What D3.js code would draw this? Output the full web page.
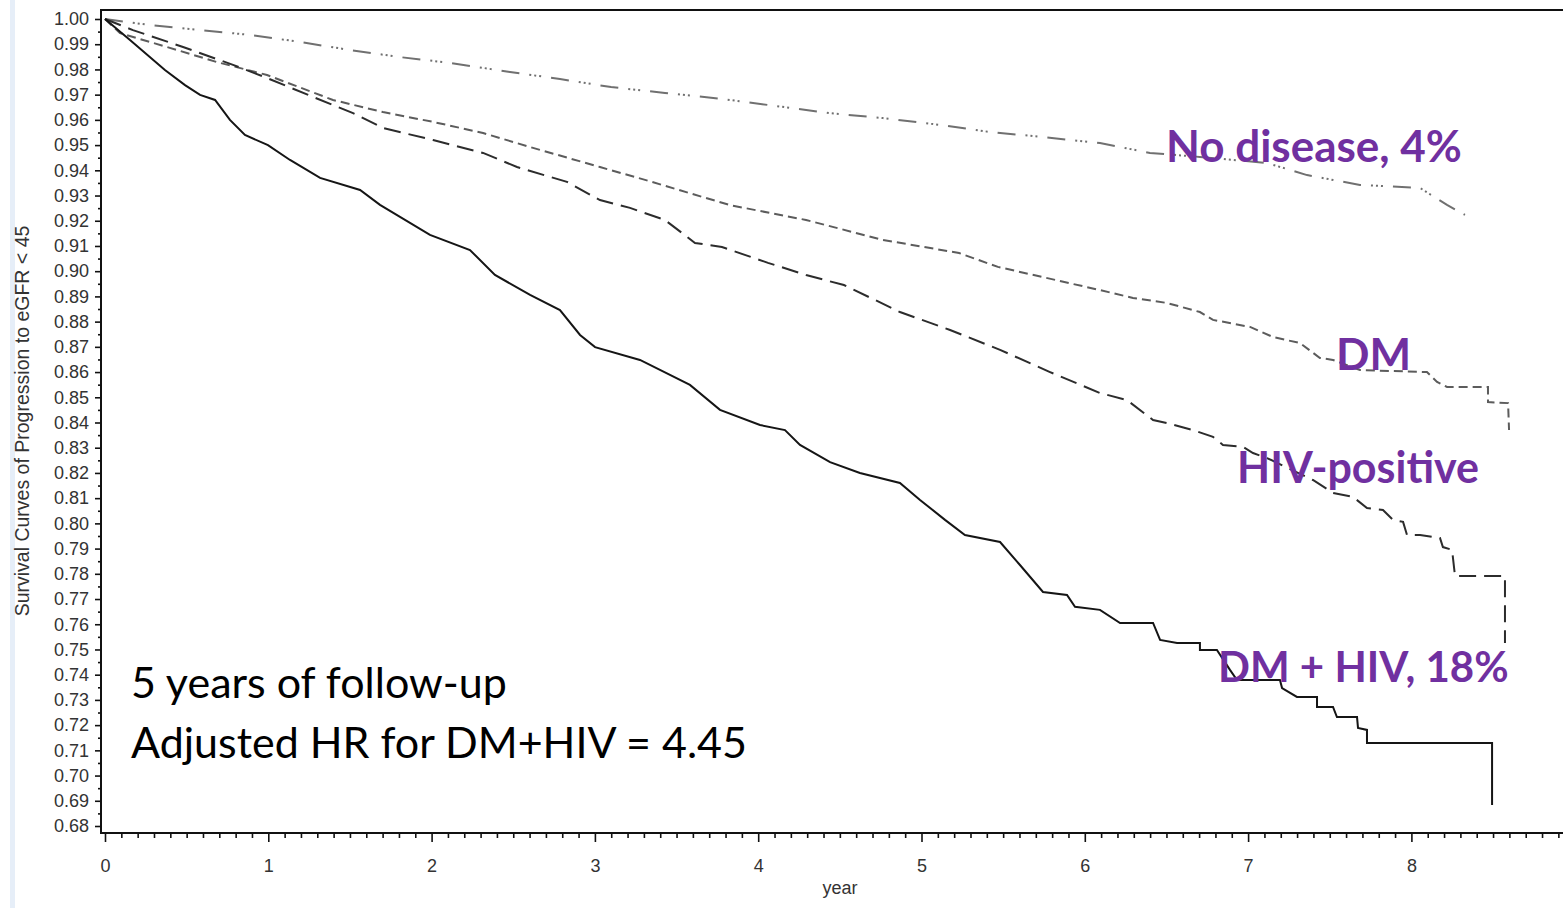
<!DOCTYPE html>
<html>
<head>
<meta charset="utf-8">
<script src="https://cdnjs.cloudflare.com/ajax/libs/d3/7.8.5/d3.min.js"></script>
<style>
  html, body { margin: 0; padding: 0; background: #fff; }
  .chart { width: 1563px; height: 908px; overflow: hidden; }
</style>
</head>
<body>
<div class="chart"></div>
<script>

// curves: [year, survival]
var dmHivPoints = [
  [0, 1.000], [0.153, 0.9917], [0.367, 0.9798], [0.490, 0.9738], [0.582, 0.9699],
  [0.674, 0.9679], [0.765, 0.9600], [0.857, 0.9540], [0.998, 0.9500], [1.133, 0.9441],
  [1.317, 0.9370], [1.562, 0.9322], [1.684, 0.9263], [1.990, 0.9144], [2.235, 0.9084],
  [2.388, 0.8985], [2.603, 0.8906], [2.786, 0.8846], [2.909, 0.8747], [3.001, 0.8699],
  [3.276, 0.8648], [3.582, 0.8549], [3.766, 0.8450], [4.011, 0.8390], [4.164, 0.8370],
  [4.256, 0.8311], [4.440, 0.8243], [4.623, 0.8200], [4.868, 0.8160], [4.991, 0.8093],
  [5.144, 0.8014], [5.266, 0.7954], [5.481, 0.7926], [5.603, 0.7835], [5.744, 0.7728],
  [5.891, 0.7716], [5.940, 0.7669], [6.093, 0.7657], [6.216, 0.7605], [6.418, 0.7605],
  [6.461, 0.7538], [6.565, 0.7526], [6.705, 0.7526], [6.705, 0.7498], [6.809, 0.7498],
  [6.889, 0.7419], [6.932, 0.7379], [7.195, 0.7379], [7.208, 0.7347], [7.299, 0.7312],
  [7.422, 0.7312], [7.422, 0.7272], [7.520, 0.7272], [7.544, 0.7232], [7.667, 0.7232],
  [7.673, 0.7189], [7.728, 0.7181], [7.728, 0.7129], [8.494, 0.7129], [8.494, 0.6883]
];

var hivPoints = [
  [0, 1.000], [0.171, 0.9956], [0.478, 0.9889], [0.784, 0.9818], [0.992, 0.9766],
  [1.274, 0.9691], [1.519, 0.9627], [1.702, 0.9568], [2.009, 0.9520], [2.315, 0.9469],
  [2.523, 0.9413], [2.829, 0.9354], [3.031, 0.9282], [3.215, 0.9251], [3.429, 0.9203],
  [3.613, 0.9112], [3.778, 0.9096], [4.060, 0.9033], [4.293, 0.8985], [4.525, 0.8945],
  [4.715, 0.8886], [4.868, 0.8838], [5.175, 0.8767], [5.481, 0.8688], [5.787, 0.8600],
  [6.093, 0.8517], [6.258, 0.8489], [6.418, 0.8410], [6.503, 0.8398], [6.662, 0.8370],
  [6.785, 0.8343], [6.846, 0.8311], [6.969, 0.8303], [7.030, 0.8279], [7.116, 0.8259],
  [7.397, 0.8172], [7.520, 0.8121], [7.642, 0.8105], [7.728, 0.8061], [7.826, 0.8053],
  [7.887, 0.8014], [7.949, 0.8006], [7.973, 0.7954], [8.053, 0.7954], [8.175, 0.7942],
  [8.193, 0.7906], [8.249, 0.7895], [8.267, 0.7791], [8.573, 0.7791], [8.573, 0.7526]
];

var dmPoints = [
  [0, 1.000], [0.092, 0.9944], [0.380, 0.9889], [0.686, 0.9829], [0.992, 0.9778],
  [1.396, 0.9679], [1.702, 0.9631], [2.009, 0.9592], [2.315, 0.9548], [2.621, 0.9489],
  [3.031, 0.9413], [3.307, 0.9362], [3.827, 0.9262], [4.293, 0.9203], [4.764, 0.9124],
  [5.230, 0.9072], [5.468, 0.9017], [6.093, 0.8925], [6.295, 0.8894], [6.503, 0.8874],
  [6.705, 0.8838], [6.785, 0.8807], [7.012, 0.8779], [7.152, 0.8739], [7.318, 0.8715],
  [7.440, 0.8656], [7.520, 0.8648], [7.685, 0.8608], [8.095, 0.8600], [8.157, 0.8561],
  [8.218, 0.8541], [8.469, 0.8541], [8.469, 0.8481], [8.592, 0.8477], [8.598, 0.8370]
];

var noDiseasePoints = [
  [0, 1.000], [0.276, 0.9976], [0.582, 0.9956], [0.888, 0.9937], [1.194, 0.9909],
  [1.500, 0.9877], [1.806, 0.9849], [2.113, 0.9826], [2.480, 0.9790], [2.786, 0.9762],
  [3.099, 0.9730], [3.429, 0.9707], [3.778, 0.9683], [4.109, 0.9655], [4.434, 0.9627],
  [4.764, 0.9607], [5.113, 0.9580], [5.419, 0.9552], [5.744, 0.9532], [6.093, 0.9508],
  [6.399, 0.9469], [6.705, 0.9453], [7.116, 0.9429], [7.361, 0.9381], [7.685, 0.9342],
  [8.053, 0.9330], [8.218, 0.9263], [8.328, 0.9223]
];

var yTicks = d3.range(68, 101).map(function(d) { return d / 100; });
var yMinorTicks = d3.range(68, 100).map(function(d) { return (d + 0.5) / 100; });
var xTicks = [0, 1, 2, 3, 4, 5, 6, 7, 8];
var xMinorTicks = d3.range(1, 90).map(function(d) { return d / 10; });

var curveLabels = ["No disease, 4%", "DM", "HIV-positive", "DM + HIV, 18%"];
var noteLines = ["5 years of follow-up", "Adjusted HR for DM+HIV = 4.45"];
var yTitle = "Survival Curves of Progression to eGFR < 45";
var xTitle = "year";


var width = 1563, height = 908;

var svg = d3.select(".chart")
  .append("svg")
    .attr("width", width)
    .attr("height", height);

svg.append("rect")
  .attr("width", width)
  .attr("height", height)
  .attr("fill", "#ffffff");

// pale slide edge on the left
svg.append("rect")
  .attr("x", 10)
  .attr("y", 0)
  .attr("width", 5)
  .attr("height", height)
  .attr("fill", "#e6eef8");

var x = d3.scaleLinear().domain([0, 9]).range([105, 1574.7]);
var y = d3.scaleLinear().domain([0.68, 1.00]).range([826, 19]);

var plotLeft = 101, plotTop = 10, plotBottom = 833;

// FRAME //
svg.append("rect")
  .attr("x", plotLeft)
  .attr("y", plotTop)
  .attr("width", 1500)
  .attr("height", plotBottom - plotTop)
  .attr("fill", "none")
  .style("stroke", "#111")
  .style("stroke-width", 2);

// AXES //
var tickFont = "'Liberation Sans', Arial, sans-serif";

var yAxis = svg.append("g")
  .attr("transform", "translate(" + plotLeft + ",0)")
  .call(d3.axisLeft(y).tickValues(yTicks).tickFormat(d3.format(".2f")).tickSize(6).tickPadding(6));

svg.append("g")
  .attr("transform", "translate(" + plotLeft + ",0)")
  .call(d3.axisLeft(y).tickValues(yMinorTicks).tickFormat("").tickSize(3))
  .select(".domain").remove();

var xAxis = svg.append("g")
  .attr("transform", "translate(0," + plotBottom + ")")
  .call(d3.axisBottom(x).tickValues(xTicks).tickFormat(d3.format("d")).tickSize(9).tickPadding(17));

svg.append("g")
  .attr("transform", "translate(0," + plotBottom + ")")
  .call(d3.axisBottom(x).tickValues(xMinorTicks.filter(function(d) { return d % 1 !== 0; })).tickFormat("").tickSize(5))
  .select(".domain").remove();

yAxis.select(".domain").remove();
xAxis.select(".domain").remove();

svg.selectAll(".tick line")
  .style("stroke", "#111")
  .style("stroke-width", 1.6);

svg.selectAll(".tick text")
  .style("font-family", tickFont)
  .style("font-size", "18px")
  .style("fill", "#333");

svg.append("text")
  .attr("transform", "translate(29,421) rotate(-90)")
  .attr("text-anchor", "middle")
  .style("font-family", tickFont)
  .style("font-size", "19.5px")
  .style("fill", "#333")
  .text(yTitle);

svg.append("text")
  .attr("x", 840)
  .attr("y", 894)
  .attr("text-anchor", "middle")
  .style("font-family", tickFont)
  .style("font-size", "18px")
  .style("fill", "#333")
  .text(xTitle);

// CURVES //
var line = d3.line()
  .x(function(d) { return x(d[0]); })
  .y(function(d) { return y(d[1]); });

var series = [
  { points: noDiseasePoints, color: "#707070", dash: "18,10,2,3,2,3,2,10" },
  { points: dmPoints, color: "#5c5c5c", dash: "9,5" },
  { points: hivPoints, color: "#2c2c2c", dash: "17,8" },
  { points: dmHivPoints, color: "#151515", dash: null }
];

svg.selectAll(".km")
  .data(series)
  .enter().append("path")
    .attr("class", "km")
    .attr("d", function(d) { return line(d.points); })
    .style("fill", "none")
    .style("stroke", function(d) { return d.color; })
    .style("stroke-width", 2)
    .style("stroke-dasharray", function(d) { return d.dash; });

// LABELS //
var labelPos = [[1166, 162], [1336, 370], [1237, 483], [1218, 682]];
var labelSize = [44, 44, 43, 42];

svg.selectAll(".curve-label")
  .data(curveLabels)
  .enter().append("text")
    .attr("class", "curve-label")
    .attr("x", function(d, i) { return labelPos[i][0]; })
    .attr("y", function(d, i) { return labelPos[i][1]; })
    .style("font-family", "Lato, 'Open Sans', sans-serif")
    .style("font-weight", "bold")
    .style("font-size", function(d, i) { return labelSize[i] + "px"; })
    .style("fill", "#7030a0")
    .text(function(d) { return d; });

svg.selectAll(".note")
  .data(noteLines)
  .enter().append("text")
    .attr("class", "note")
    .attr("x", 131)
    .attr("y", function(d, i) { return 698 + i * 60; })
    .style("font-family", "Lato, 'Open Sans', sans-serif")
    .style("font-size", "43px")
    .style("fill", "#000")
    .text(function(d) { return d; });

</script>
</body>
</html>
